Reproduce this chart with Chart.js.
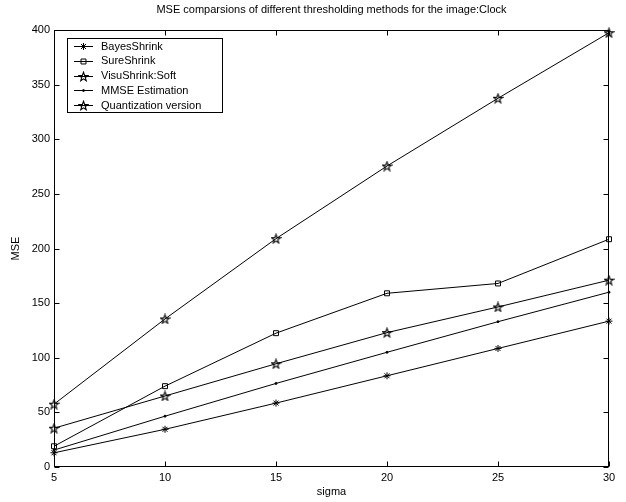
<!DOCTYPE html>
<html>
<head>
<meta charset="utf-8">
<script src="https://cdn.jsdelivr.net/npm/chart.js@4.4.1/dist/chart.umd.min.js"></script>
<style>
  html, body { margin: 0; padding: 0; background: #fff; }
  canvas { display: block; }
</style>
</head>
<body>
<canvas id="chart" width="626" height="502"></canvas>
<script>
// values
const sigma = [5, 10, 15, 20, 25, 30];
const bayesShrink = [13, 34.5, 58.5, 83.5, 108.5, 133.5];
const sureShrink = [19, 74, 122.5, 159, 168, 208.5];
const visuShrink = [57.5, 135.5, 209, 275.5, 337.5, 397.5];
const mmseEstimation = [15.5, 46.5, 76.5, 105, 133, 160];
const quantization = [35.5, 65, 94.5, 123, 146.5, 171];

const FONT = 'Liberation Sans, Arial, Helvetica, sans-serif';

// matlab style pentagram marker
function pentagram(size) {
    const c = document.createElement('canvas');
    c.width = c.height = size;
    const g = c.getContext('2d');
    const cx = size / 2, cy = size / 2 + 0.5, R = size / 2 - 0.8, r = R * 0.4;
    g.beginPath();
    for (let i = 0; i < 10; i++) {
        const a = -Math.PI / 2 + i * Math.PI / 5;
        const rad = i % 2 ? r : R;
        g.lineTo(cx + rad * Math.cos(a), cy + rad * Math.sin(a));
    }
    g.closePath();
    g.strokeStyle = '#000';
    g.lineWidth = 1.1;
    g.stroke();
    return c;
}
const star = pentagram(11);

const pts = vals => vals.map((v, i) => ({ x: sigma[i], y: v }));

function series(label, vals, style, radius, fill) {
    return {
        label: label,
        data: pts(vals),
        borderColor: '#000',
        borderWidth: 1,
        tension: 0,
        pointStyle: style,
        pointRadius: radius,
        pointBorderColor: '#000',
        pointBorderWidth: 1,
        pointBackgroundColor: fill,
        clip: false
    };
}

// box, inward ticks on all sides and the legend inside the plot
const framePlugin = {
    id: 'frame',
    afterDatasetsDraw(chart) {
        const { ctx, chartArea: a, scales: { x, y } } = chart;
        const L = Math.round(a.left) + 0.5, R = Math.round(a.right) - 0.5;
        const T = Math.round(a.top) + 0.5, B = Math.round(a.bottom) - 0.5;
        const tl = 5;
        ctx.save();
        ctx.strokeStyle = '#000';
        ctx.lineWidth = 1;
        ctx.strokeRect(L, T, R - L, B - T);
        ctx.beginPath();
        x.ticks.forEach(t => {
            const px = Math.round(x.getPixelForValue(t.value)) + 0.5;
            ctx.moveTo(px, B); ctx.lineTo(px, B - tl);
            ctx.moveTo(px, T); ctx.lineTo(px, T + tl);
        });
        y.ticks.forEach(t => {
            const py = Math.round(y.getPixelForValue(t.value)) + 0.5;
            ctx.moveTo(L, py); ctx.lineTo(L + tl, py);
            ctx.moveTo(R, py); ctx.lineTo(R - tl, py);
        });
        ctx.stroke();

        // legend
        ctx.fillStyle = '#fff';
        ctx.fillRect(67.5, 38.5, 155, 74);
        ctx.strokeRect(67.5, 38.5, 155, 74);
        ctx.font = '11px ' + FONT;
        ctx.textBaseline = 'middle';
        chart.data.datasets.forEach((ds, i) => {
            const ry = 46 + i * 14.75;
            ctx.strokeStyle = '#000';
            ctx.lineWidth = 1;
            ctx.beginPath();
            ctx.moveTo(74, Math.round(ry) + 0.5);
            ctx.lineTo(93, Math.round(ry) + 0.5);
            ctx.stroke();
            ctx.fillStyle = ds.pointBackgroundColor;
            Chart.helpers.drawPoint(ctx, {
                pointStyle: ds.pointStyle,
                radius: ds.pointRadius,
                borderWidth: 1,
                rotation: 0
            }, 83.5, Math.round(ry) + 0.5);
            ctx.fillStyle = '#000';
            ctx.fillText(ds.label, 101, ry + 0.5);
        });
        ctx.restore();
    }
};

new Chart(document.getElementById('chart'), {
    type: 'line',
    data: {
        datasets: [
            series('BayesShrink', bayesShrink, 'star', 3.5, '#000'),
            series('SureShrink', sureShrink, 'rect', 3.5, 'rgba(0,0,0,0)'),
            series('VisuShrink:Soft', visuShrink, star, 5, 'rgba(0,0,0,0)'),
            series('MMSE Estimation', mmseEstimation, 'circle', 1, '#000'),
            series('Quantization version', quantization, star, 5, 'rgba(0,0,0,0)')
        ]
    },
    options: {
        responsive: false,
        animation: false,
        layout: { padding: { left: 0, right: 17, top: 0, bottom: 0 } },
        plugins: {
            legend: { display: false },
            tooltip: { enabled: false },
            title: {
                display: true,
                text: 'MSE comparsions of different thresholding methods for the image:Clock',
                color: '#000',
                font: { family: FONT, size: 11, weight: 'normal' },
                padding: { top: 3, bottom: 13.8 },
                fullSize: false
            }
        },
        scales: {
            x: {
                type: 'linear',
                min: 5,
                max: 30,
                ticks: { stepSize: 5, color: '#000', padding: 4, font: { family: FONT, size: 11 } },
                grid: { drawOnChartArea: false, drawTicks: false },
                border: { display: false },
                title: {
                    display: true,
                    text: 'sigma',
                    color: '#000',
                    font: { family: FONT, size: 11 },
                    padding: { top: 0, bottom: 3 }
                },
                afterFit: s => { s.height = 35; }
            },
            y: {
                min: 0,
                max: 400,
                ticks: { stepSize: 50, color: '#000', padding: 4, font: { family: FONT, size: 11 } },
                grid: { drawOnChartArea: false, drawTicks: false },
                border: { display: false },
                title: {
                    display: true,
                    text: 'MSE',
                    color: '#000',
                    font: { family: FONT, size: 11 },
                    padding: { top: 9, bottom: 0 }
                },
                afterFit: s => { s.width = 54; }
            }
        }
    },
    plugins: [framePlugin]
});
</script>
</body>
</html>
